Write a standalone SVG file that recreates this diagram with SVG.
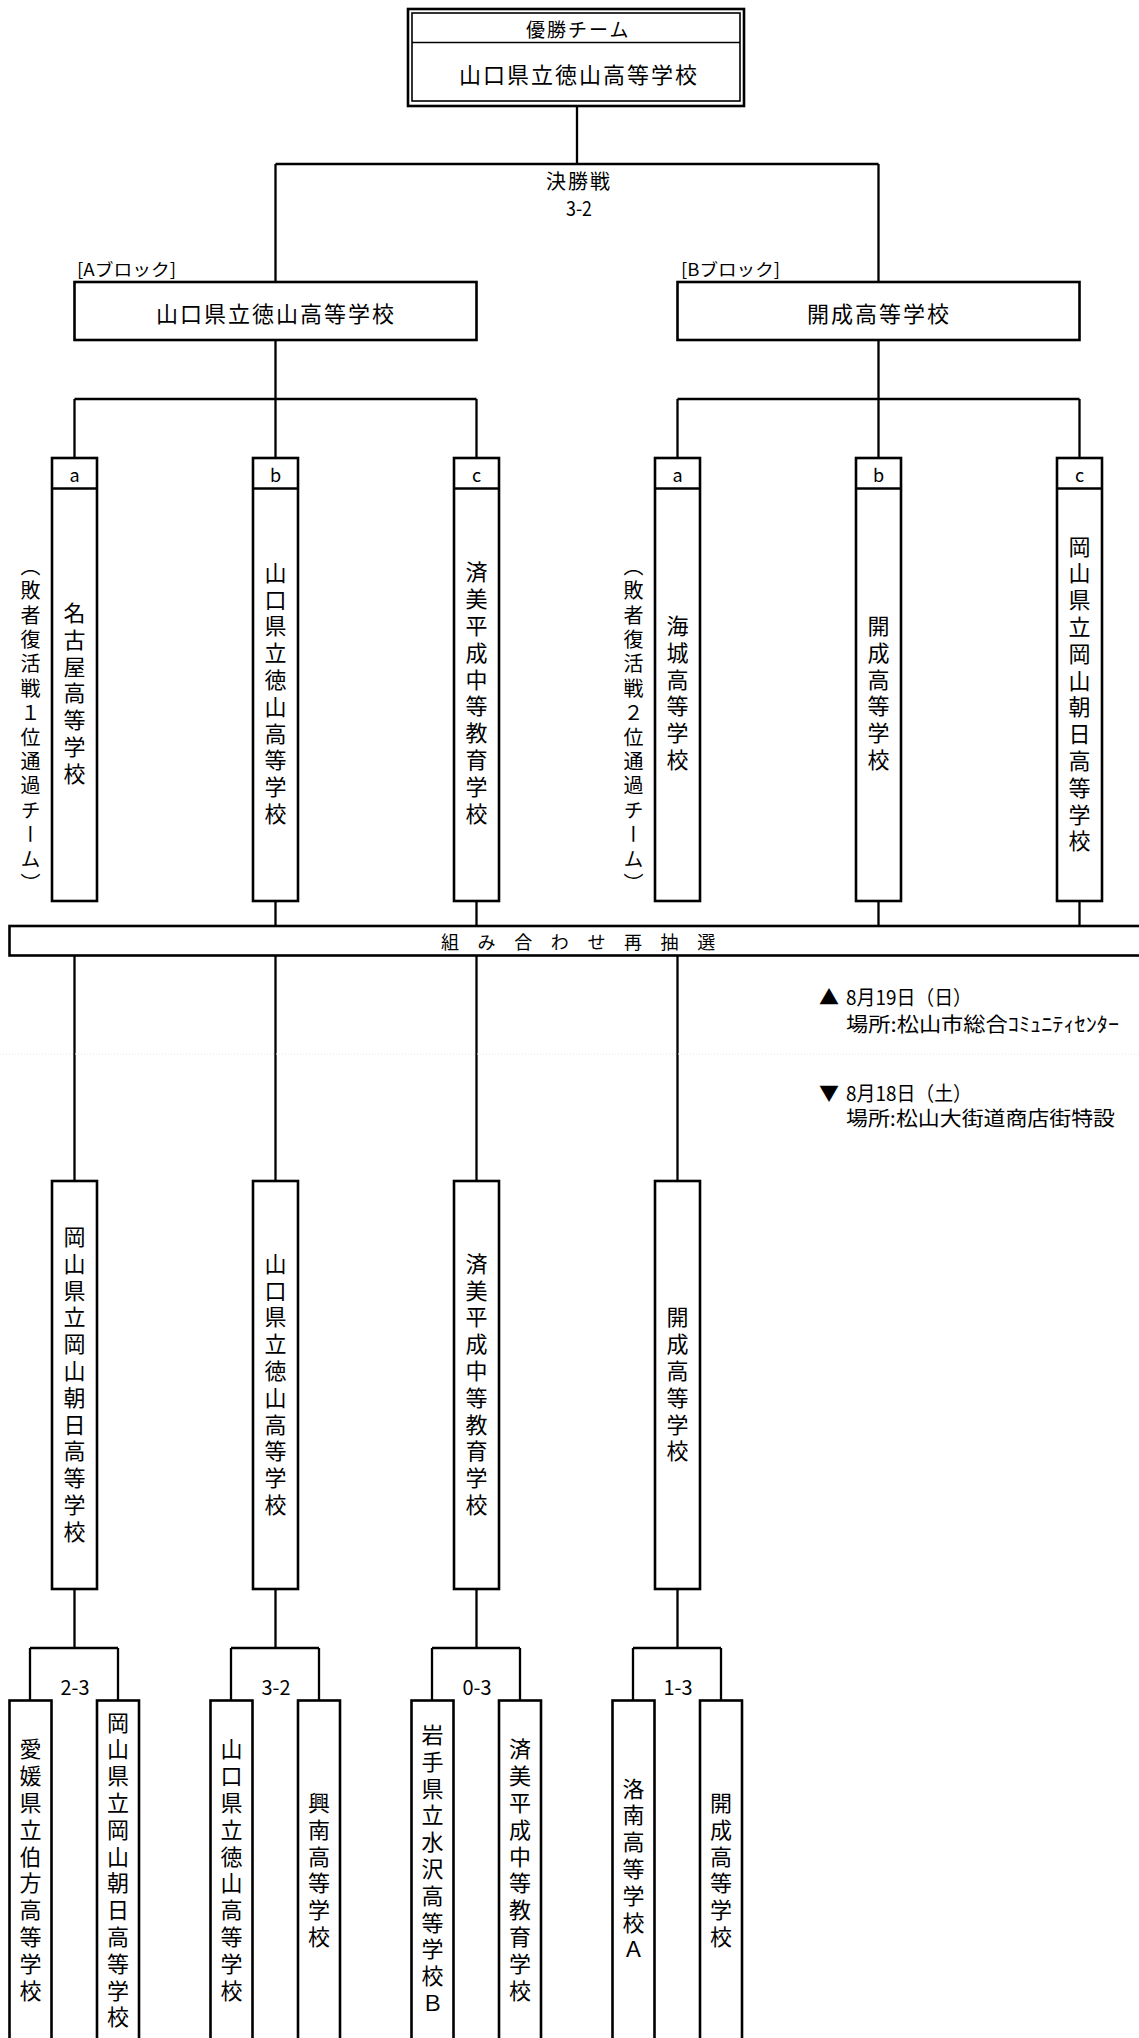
<svg xmlns="http://www.w3.org/2000/svg" width="1139" height="2038" viewBox="0 0 1139 2038">
<style>
.box{fill:#fff;stroke:#000;stroke-width:2.6}
.thin{fill:none;stroke:#000;stroke-width:1.6}
.ln{fill:none;stroke:#000;stroke-width:2.3}
text{font-family:"Noto Sans CJK JP","Noto Sans",sans-serif;fill:#000;dominant-baseline:central}
.v{writing-mode:vertical-rl;text-orientation:upright;text-anchor:middle;font-size:22px;letter-spacing:4.8px}
.side{writing-mode:vertical-rl;text-orientation:upright;text-anchor:middle;font-size:20px;letter-spacing:4.4px}
.h22{font-size:22px;letter-spacing:2px}
.lbl{font-size:18px;text-anchor:middle}
.sc{font-size:20px;text-anchor:middle}
.note{font-size:20px}
</style>
<rect width="1139" height="2038" fill="#fff"/>

<g id="connectors">
<path class="ln" d="M577 106V164M275.5 164H878.5M275.5 164V282M878.5 164V282"/>
<path class="ln" d="M275.5 340V399M74.5 399H476.5M74.5 399V458M275.5 399V458M476.5 399V458"/>
<path class="ln" d="M878.5 340V399M677.5 399H1079.5M677.5 399V458M878.5 399V458M1079.5 399V458"/>
<path class="ln" d="M275.5 901V926M476.5 901V926M878.5 901V926M1079.5 901V926"/>
<path class="ln" d="M74.5 955.5V1181M275.5 955.5V1181M476.5 955.5V1181M677.5 955.5V1181"/>
<path class="ln" d="M74.5 1589V1648M30 1648H118M30 1648V1700.5M118 1648V1700.5"/>
<path class="ln" d="M275.5 1589V1648M231 1648H319M231 1648V1700.5M319 1648V1700.5"/>
<path class="ln" d="M476.5 1589V1648M432 1648H520M432 1648V1700.5M520 1648V1700.5"/>
<path class="ln" d="M677.5 1589V1648M633 1648H721M633 1648V1700.5M721 1648V1700.5"/>
</g>

<line x1="0" y1="1054" x2="1139" y2="1054" stroke="#e6e6e6" stroke-width="1" stroke-dasharray="1 2"/>

<g id="champion">
<rect class="box" x="408" y="9" width="336" height="97"/>
<rect class="thin" x="412" y="13" width="328" height="88"/>
<line class="thin" x1="412" y1="42.5" x2="740" y2="42.5"/>
<text x="526" y="28" font-size="19" letter-spacing="2">優勝チーム</text>
<text class="h22" x="459" y="73">山口県立徳山高等学校</text>
</g>

<g id="final-label">
<text x="546" y="180" font-size="20" letter-spacing="2">決勝戦</text>
<text class="sc" x="579" y="207" font-size="21" textLength="26" lengthAdjust="spacingAndGlyphs">3-2</text>
</g>

<g id="blockA">
<text x="77" y="268.5" font-size="17" textLength="99" lengthAdjust="spacingAndGlyphs">[Aブロック]</text>
<rect class="box" x="74.5" y="282" width="402" height="58"/>
<text class="h22" x="156" y="311.5">山口県立徳山高等学校</text>
</g>

<g id="blockB">
<text x="681" y="268.5" font-size="17" textLength="99" lengthAdjust="spacingAndGlyphs">[Bブロック]</text>
<rect class="box" x="677.5" y="282" width="402" height="58"/>
<text class="h22" x="807" y="311.5">開成高等学校</text>
</g>

<g id="A-a">
<rect class="box" x="52" y="458" width="45" height="443"/>
<line class="ln" x1="52" y1="488.5" x2="97" y2="488.5"/>
<text class="lbl" x="74.5" y="474">a</text>
<text class="v" x="74.5" y="695.5">名古屋高等学校</text>
</g>
<g id="A-a-note"><text class="side" x="30.5" y="727">（敗者復活戦１位通過チーム）</text></g>
<g id="A-b">
<rect class="box" x="253" y="458" width="45" height="443"/>
<line class="ln" x1="253" y1="488.5" x2="298" y2="488.5"/>
<text class="lbl" x="275.5" y="474">b</text>
<text class="v" x="275.5" y="695.5">山口県立徳山高等学校</text>
</g>
<g id="A-c">
<rect class="box" x="454" y="458" width="45" height="443"/>
<line class="ln" x1="454" y1="488.5" x2="499" y2="488.5"/>
<text class="lbl" x="476.5" y="474">c</text>
<text class="v" x="476.5" y="695">済美平成中等教育学校</text>
</g>

<g id="B-a">
<rect class="box" x="655" y="458" width="45" height="443"/>
<line class="ln" x1="655" y1="488.5" x2="700" y2="488.5"/>
<text class="lbl" x="677.5" y="474">a</text>
<text class="v" x="677.5" y="695">海城高等学校</text>
</g>
<g id="B-a-note"><text class="side" x="633.5" y="727">（敗者復活戦２位通過チーム）</text></g>
<g id="B-b">
<rect class="box" x="856" y="458" width="45" height="443"/>
<line class="ln" x1="856" y1="488.5" x2="901" y2="488.5"/>
<text class="lbl" x="878.5" y="474">b</text>
<text class="v" x="878.5" y="695">開成高等学校</text>
</g>
<g id="B-c">
<rect class="box" x="1057" y="458" width="45" height="443"/>
<line class="ln" x1="1057" y1="488.5" x2="1102" y2="488.5"/>
<text class="lbl" x="1079.5" y="474">c</text>
<text class="v" x="1079.5" y="696">岡山県立岡山朝日高等学校</text>
</g>

<g id="redraw">
<rect class="box" x="9.5" y="926" width="1140" height="29.5"/>
<text x="441" y="941" font-size="18" letter-spacing="18.6">組み合わせ再抽選</text>
</g>

<g id="notes">
<text class="note" x="819" y="996.5" font-size="18">▲</text>
<text class="note" x="846" y="996.5" textLength="126" lengthAdjust="spacingAndGlyphs">8月19日（日）</text>
<text class="note" x="846" y="1023" textLength="273" lengthAdjust="spacingAndGlyphs">場所:松山市総合ｺﾐｭﾆﾃｨｾﾝﾀｰ</text>
<text class="note" x="819" y="1092.5" font-size="18">▼</text>
<text class="note" x="846" y="1092.5" textLength="126" lengthAdjust="spacingAndGlyphs">8月18日（土）</text>
<text class="note" x="846" y="1117.5" textLength="269" lengthAdjust="spacingAndGlyphs">場所:松山大街道商店街特設</text>
</g>

<g id="S1">
<rect class="box" x="52" y="1181" width="45" height="408"/>
<text class="v" x="74.5" y="1386.5">岡山県立岡山朝日高等学校</text>
</g>
<g id="S2">
<rect class="box" x="253" y="1181" width="45" height="408"/>
<text class="v" x="275.5" y="1386.5">山口県立徳山高等学校</text>
</g>
<g id="S3">
<rect class="box" x="454" y="1181" width="45" height="408"/>
<text class="v" x="476.5" y="1386.5">済美平成中等教育学校</text>
</g>
<g id="S4">
<rect class="box" x="655" y="1181" width="45" height="408"/>
<text class="v" x="677.5" y="1386.5">開成高等学校</text>
</g>

<g id="scores">
<text class="sc" x="75" y="1686" textLength="29" lengthAdjust="spacingAndGlyphs">2-3</text>
<text class="sc" x="276" y="1686" textLength="29" lengthAdjust="spacingAndGlyphs">3-2</text>
<text class="sc" x="477" y="1686" textLength="29" lengthAdjust="spacingAndGlyphs">0-3</text>
<text class="sc" x="678" y="1686" textLength="29" lengthAdjust="spacingAndGlyphs">1-3</text>
</g>

<g id="L1a"><rect class="box" x="9.5" y="1700.5" width="42" height="345"/><text class="v" x="30.5" y="1872">愛媛県立伯方高等学校</text></g>
<g id="L1b"><rect class="box" x="97" y="1700.5" width="42" height="345"/><text class="v" x="118" y="1872">岡山県立岡山朝日高等学校</text></g>
<g id="L2a"><rect class="box" x="210.5" y="1700.5" width="42" height="345"/><text class="v" x="231.5" y="1872">山口県立徳山高等学校</text></g>
<g id="L2b"><rect class="box" x="298" y="1700.5" width="42" height="345"/><text class="v" x="319" y="1872">興南高等学校</text></g>
<g id="L3a"><rect class="box" x="411.5" y="1700.5" width="42" height="345"/><text class="v" x="432.5" y="1871">岩手県立水沢高等学校Ｂ</text></g>
<g id="L3b"><rect class="box" x="499" y="1700.5" width="42" height="345"/><text class="v" x="520" y="1872">済美平成中等教育学校</text></g>
<g id="L4a"><rect class="box" x="612.5" y="1700.5" width="42" height="345"/><text class="v" x="633.5" y="1871">洛南高等学校Ａ</text></g>
<g id="L4b"><rect class="box" x="700" y="1700.5" width="42" height="345"/><text class="v" x="721" y="1872">開成高等学校</text></g>
</svg>
